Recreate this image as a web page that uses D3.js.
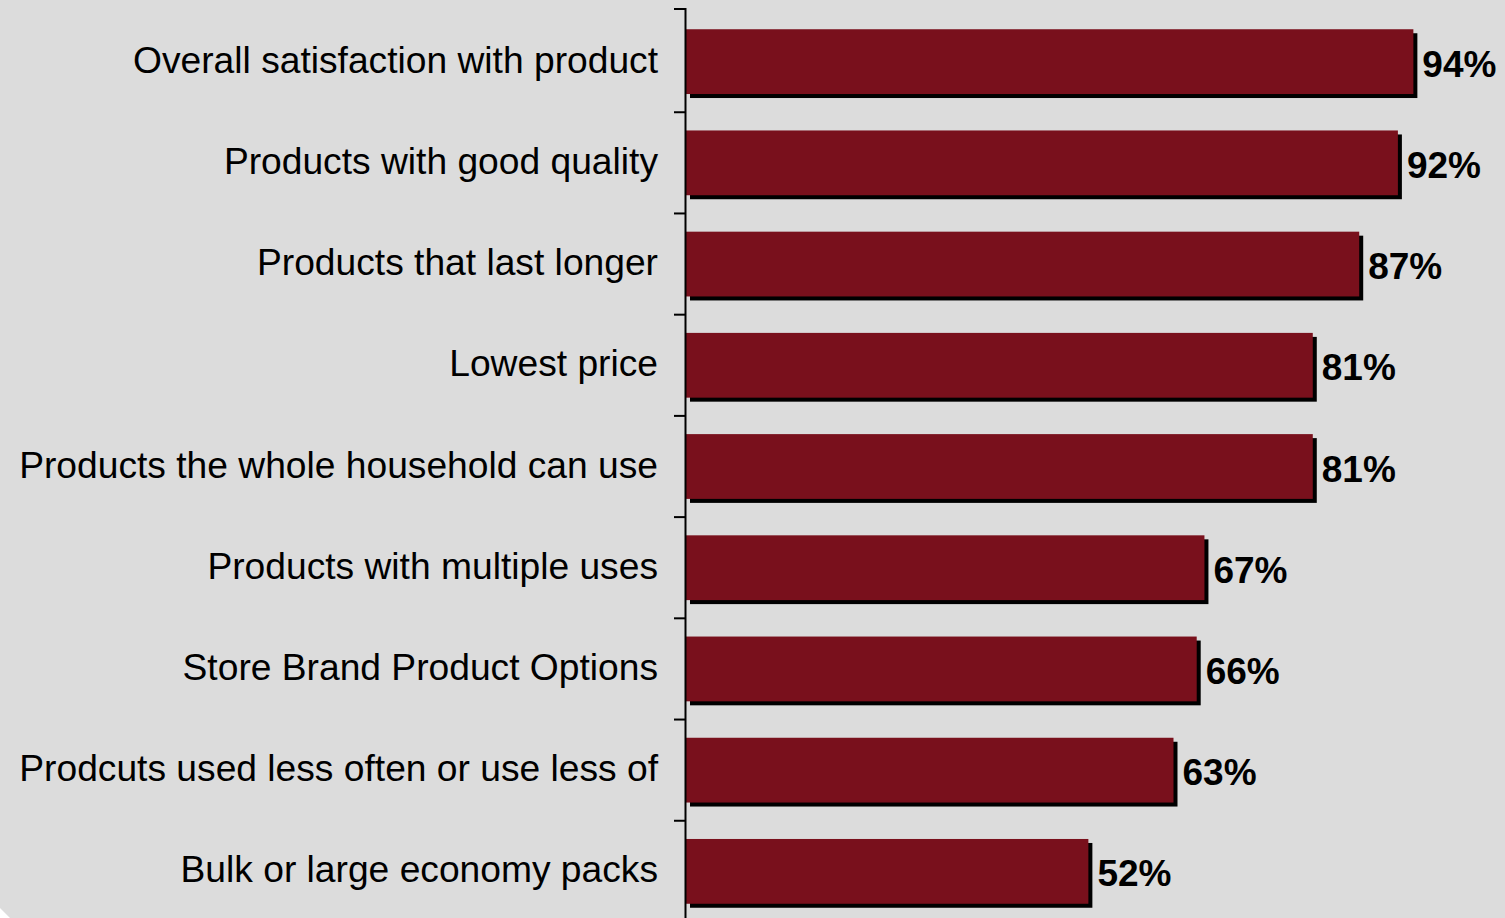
<!DOCTYPE html>
<html>
<head>
<meta charset="utf-8">
<script src="https://cdn.jsdelivr.net/npm/d3@7"></script>
<style>
  html, body { margin: 0; padding: 0; background: #ffffff; }
  svg { display: block; }
</style>
</head>
<body>
<svg id="chart" width="1505" height="918"></svg>
<script>
// Survey categories, top to bottom
const categories = [
  "Overall satisfaction with product",
  "Products with good quality",
  "Products that last longer",
  "Lowest price",
  "Products the whole household can use",
  "Products with multiple uses",
  "Store Brand Product Options",
  "Prodcuts used less often or use less of",
  "Bulk or large economy packs"
];
// Share of respondents (%)
const values = [94, 92, 87, 81, 81, 67, 66, 63, 52];
// Value labels shown at the bar ends
const valueLabels = ["94%", "92%", "87%", "81%", "81%", "67%", "66%", "63%", "52%"];

const W = 1505, H = 918;
const svg = d3.select("#chart");

// Panel background with a clipped lower-left corner
svg.append("path")
  .attr("d", `M0,0 H${W} V${H} H10 L0,908 Z`)
  .attr("fill", "#dcdcdc");

const x0 = 686;
const x = d3.scaleLinear().domain([0, 100]).range([x0, x0 + 773.8]);
const y = d3.scaleBand()
  .domain(categories)
  .range([9, 924])
  .paddingInner(0.36)
  .paddingOuter(0.2);

const data = categories.map((c, i) => ({ cat: c, v: values[i], label: valueLabels[i] }));
const shadow = 4;

// Drop shadows
svg.append("g").selectAll("rect").data(data).join("rect")
  .attr("x", x(0) + shadow)
  .attr("y", d => y(d.cat) + shadow)
  .attr("width", d => x(d.v) - x(0))
  .attr("height", y.bandwidth())
  .attr("fill", "#000");

// Bars
svg.append("g").selectAll("rect").data(data).join("rect")
  .attr("x", x(0))
  .attr("y", d => y(d.cat))
  .attr("width", d => x(d.v) - x(0))
  .attr("height", y.bandwidth())
  .attr("fill", "#79101c");

// Category axis: vertical line with ticks between bands
const gap = y.step() - y.bandwidth();
const axis = svg.append("g").attr("stroke", "#000").attr("stroke-width", 2);
axis.append("line")
  .attr("x1", x0 - 0.5).attr("x2", x0 - 0.5)
  .attr("y1", 8).attr("y2", H);
const tickYs = [9].concat(categories.slice(1).map(c => y(c) - gap / 2));
axis.selectAll("line.tick").data(tickYs).join("line")
  .attr("class", "tick")
  .attr("x1", x0 - 12).attr("x2", x0)
  .attr("y1", d => d).attr("y2", d => d);

// Category labels
svg.append("g").selectAll("text").data(data).join("text")
  .attr("x", 658)
  .attr("y", d => y(d.cat) + y.bandwidth() / 2 + 11)
  .attr("text-anchor", "end")
  .attr("font-family", "Liberation Sans, Arial, sans-serif")
  .attr("font-size", 37.2)
  .attr("fill", "#000")
  .text(d => d.cat);

// Value labels
svg.append("g").selectAll("text").data(data).join("text")
  .attr("x", d => x(d.v) + 9)
  .attr("y", d => y(d.cat) + y.bandwidth() / 2 + 15)
  .attr("font-family", "Liberation Sans, Arial, sans-serif")
  .attr("font-weight", "bold")
  .attr("font-size", 37)
  .attr("fill", "#000")
  .text(d => d.label);
</script>
</body>
</html>
